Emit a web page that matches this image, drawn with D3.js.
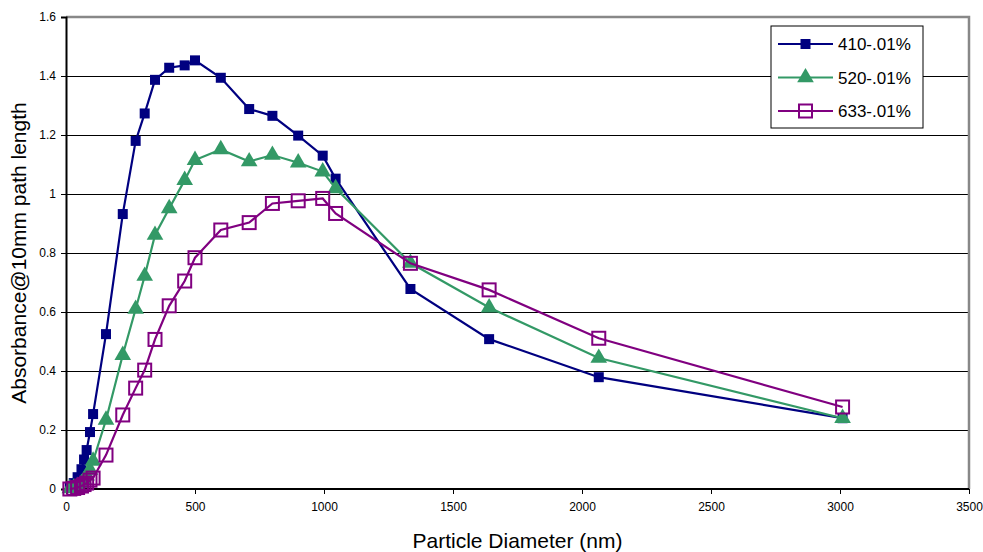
<!DOCTYPE html>
<html>
<head>
<meta charset="utf-8">
<script src="https://cdn.jsdelivr.net/npm/d3@7"></script>
<style>
  body { margin: 0; background: #fff; }
  svg { display: block; font-family: "Liberation Sans", Arial, sans-serif; }
</style>
</head>
<body>
<div class="chart"></div>
<script>
// particle diameters (nm)
var diameters = [15, 30, 45, 60, 70, 80, 93, 105, 155, 220, 270, 305, 345, 400, 460, 500, 600, 710, 800, 900, 995, 1045, 1335, 1640, 2065, 3010];
var abs410 = [0.005, 0.02, 0.04, 0.067, 0.1, 0.132, 0.193, 0.254, 0.525, 0.932, 1.18, 1.273, 1.387, 1.428, 1.436, 1.453, 1.394, 1.288, 1.265, 1.198, 1.13, 1.052, 0.678, 0.508, 0.379, 0.24];
var abs520 = [0.002, 0.005, 0.01, 0.02, 0.03, 0.045, 0.065, 0.095, 0.234, 0.454, 0.61, 0.722, 0.861, 0.951, 1.047, 1.115, 1.151, 1.11, 1.132, 1.106, 1.076, 1.019, 0.766, 0.615, 0.444, 0.24];
var abs633 = [0, 0.002, 0.005, 0.01, 0.015, 0.02, 0.03, 0.037, 0.115, 0.251, 0.342, 0.403, 0.507, 0.621, 0.705, 0.784, 0.878, 0.903, 0.968, 0.977, 0.985, 0.934, 0.765, 0.675, 0.511, 0.278];
var seriesNames = ["410-.01%", "520-.01%", "633-.01%"];
var xTicks = [0, 500, 1000, 1500, 2000, 2500, 3000, 3500];
var yTicks = [0, 0.2, 0.4, 0.6, 0.8, 1, 1.2, 1.4, 1.6];

var w = 983, h = 552;
var padL = 66, padR = 969, padT = 17, padB = 489;

var svg = d3.select(".chart").append("svg")
  .attr("width", w).attr("height", h);

var x = d3.scaleLinear().domain([0, 3500]).range([padL, padR]);
var y = d3.scaleLinear().domain([0, 1.6]).range([padB, padT]);

// gridlines
svg.append("g").selectAll("line")
  .data(yTicks.slice(1, -1))
  .enter().append("line")
  .attr("x1", padL).attr("x2", padR)
  .attr("y1", function(d) { return Math.round(y(d)) + 0.5; })
  .attr("y2", function(d) { return Math.round(y(d)) + 0.5; })
  .attr("stroke", "#000").attr("stroke-width", 1);

// gray frame top/right
svg.append("path")
  .attr("d", "M" + padL + "," + padT + "H" + padR + "V" + padB)
  .attr("fill", "none").attr("stroke", "#888").attr("stroke-width", 2.5);

// axes
var xAxis = svg.append("g")
  .attr("transform", "translate(0," + padB + ")")
  .call(d3.axisBottom(x).tickValues(xTicks).tickSize(5).tickPadding(8).tickFormat(d3.format("d")));
var yAxis = svg.append("g")
  .attr("transform", "translate(" + padL + ",0)")
  .call(d3.axisLeft(y).tickValues(yTicks).tickSize(5).tickPadding(5).tickFormat(function(d) { return String(+d.toFixed(1)); }));

[xAxis, yAxis].forEach(function(a) {
  a.select(".domain").attr("stroke", "#000").attr("stroke-width", 2);
  a.selectAll(".tick line").attr("stroke", "#000");
  a.selectAll(".tick text").attr("font-size", 12).attr("fill", "#000")
    .attr("font-family", "'Liberation Sans Narrow', 'Liberation Sans', Arial, sans-serif");
});
xAxis.select(".domain").attr("d", "M" + padL + ",0H" + padR);

// axis titles
svg.append("text")
  .attr("x", (padL + padR) / 2).attr("y", 548)
  .attr("text-anchor", "middle").attr("font-size", 21)
  .text("Particle Diameter (nm)");
svg.append("text")
  .attr("transform", "translate(26," + ((padT + padB) / 2) + ") rotate(-90)")
  .attr("text-anchor", "middle").attr("font-size", 21)
  .text("Absorbance@10mm path length");

var series = [
  { name: seriesNames[0], values: abs410, color: "#000080", marker: "filled" },
  { name: seriesNames[1], values: abs520, color: "#339966", marker: "triangle" },
  { name: seriesNames[2], values: abs633, color: "#800080", marker: "open" }
];

var line = d3.line()
  .x(function(d) { return x(d[0]); })
  .y(function(d) { return y(d[1]); });

function drawMarker(g, kind, color) {
  if (kind === "filled") {
    g.append("rect").attr("x", -5).attr("y", -5).attr("width", 10).attr("height", 10)
      .attr("fill", color);
  } else if (kind === "triangle") {
    g.append("path").attr("d", d3.symbol().type(d3.symbolTriangle).size(120)())
      .attr("fill", color);
  } else {
    g.append("rect").attr("x", -6.5).attr("y", -6.5).attr("width", 13).attr("height", 13)
      .attr("fill", "none").attr("stroke", color).attr("stroke-width", 2);
  }
}

series.forEach(function(s) {
  var pts = diameters.map(function(d, i) { return [d, s.values[i]]; });
  svg.append("path")
    .datum(pts)
    .attr("d", line)
    .attr("fill", "none")
    .attr("stroke", s.color)
    .attr("stroke-width", 2.2);
  svg.append("g").selectAll("g")
    .data(pts)
    .enter().append("g")
    .attr("transform", function(d) { return "translate(" + x(d[0]) + "," + y(d[1]) + ")"; })
    .each(function() { drawMarker(d3.select(this), s.marker, s.color); });
});

// legend
var legend = svg.append("g");
legend.append("rect")
  .attr("x", 771).attr("y", 26).attr("width", 152).attr("height", 102)
  .attr("fill", "#fff").attr("stroke", "#000").attr("stroke-width", 1);
series.forEach(function(s, i) {
  var ly = 44 + i * 33.5;
  legend.append("line")
    .attr("x1", 778).attr("x2", 833).attr("y1", ly).attr("y2", ly)
    .attr("stroke", s.color).attr("stroke-width", 2.2);
  var m = legend.append("g").attr("transform", "translate(805.5," + ly + ")");
  drawMarker(m, s.marker, s.color);
  legend.append("text")
    .attr("x", 838).attr("y", ly + 6)
    .attr("font-size", 17)
    .text(s.name);
});
</script>
</body>
</html>
